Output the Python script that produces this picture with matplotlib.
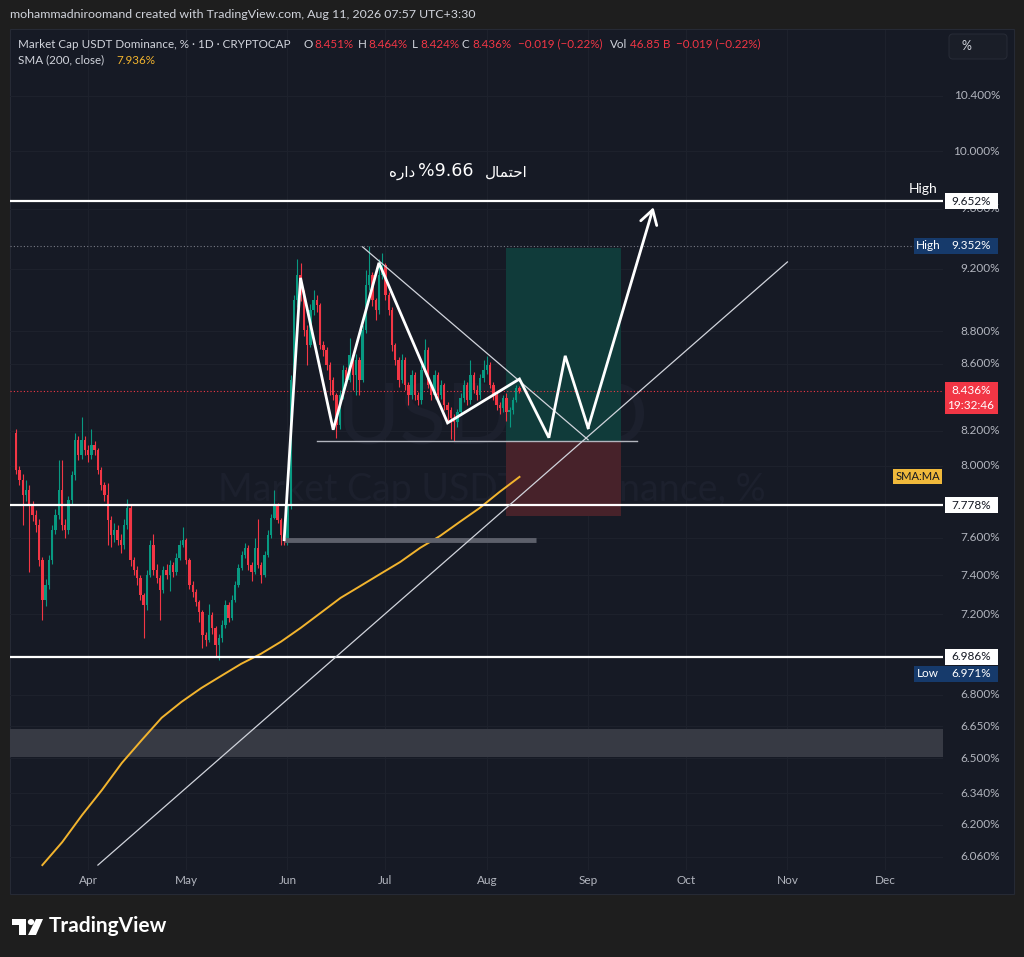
import numpy as np
import pandas as pd
import matplotlib
matplotlib.use("Agg")
import matplotlib.pyplot as plt
from matplotlib.patches import Rectangle, FancyBboxPatch, Polygon, Circle

# ---- data -------------------------------------------------------------------
START = "2026-03-10"      # first daily candle
FIRST_OPEN = 8.19

closes = [7.976, 7.920, 7.836, 7.864, 7.781, 7.726, 7.672, 7.483, 7.273, 7.351,
          7.483, 7.645, 7.726, 7.864, 7.672, 7.645, 7.809, 7.948, 8.148, 8.062,
          8.148, 8.090, 8.062, 8.119, 8.090, 7.976, 7.892, 7.836, 7.699, 7.617,
          7.645, 7.590, 7.563, 7.672, 7.765, 7.483, 7.431, 7.389, 7.299, 7.248,
          7.404, 7.563, 7.431, 7.389, 7.325, 7.431, 7.404, 7.457, 7.420, 7.494,
          7.563, 7.590, 7.483, 7.351, 7.315, 7.263, 7.212, 7.095, 7.070, 7.196,
          7.130, 7.045, 7.080, 7.146, 7.248, 7.181, 7.273, 7.351, 7.441, 7.510,
          7.547, 7.457, 7.420, 7.547, 7.457, 7.404, 7.510, 7.617, 7.710, 7.781,
          7.699, 7.617, 7.590, 7.781, 8.502, 8.998, 9.159, 9.030, 8.808, 8.715,
          8.934, 8.998, 8.966, 8.715, 8.684, 8.592, 8.502, 8.411, 8.234, 8.411,
          8.562, 8.502, 8.653, 8.532, 8.623, 8.502, 8.808, 9.095, 9.159, 8.998,
          8.934, 9.159, 9.224, 9.030, 8.934, 8.715, 8.623, 8.502, 8.623, 8.471,
          8.411, 8.532, 8.411, 8.381, 8.562, 8.684, 8.471, 8.411, 8.532, 8.411,
          8.471, 8.352, 8.322, 8.275, 8.252, 8.310, 8.393, 8.471, 8.381, 8.532,
          8.441, 8.411, 8.514, 8.562, 8.592, 8.471, 8.411, 8.352, 8.334, 8.393,
          8.310, 8.322, 8.381, 8.451, 8.436]

highs = [8.21, 8.00, 7.95, 7.92, 7.89, 7.80, 7.75, 7.70, 7.50, 7.38,
         7.51, 7.67, 7.76, 8.03, 8.03, 7.70, 7.83, 7.97, 8.19, 8.17,
         8.28, 8.17, 8.12, 8.21, 8.14, 8.10, 7.99, 7.91, 7.90, 7.72,
         7.68, 7.67, 7.62, 7.70, 7.81, 7.78, 7.50, 7.45, 7.40, 7.31,
         7.43, 7.59, 7.62, 7.46, 7.40, 7.45, 7.46, 7.48, 7.47, 7.52,
         7.59, 7.66, 7.60, 7.49, 7.37, 7.33, 7.27, 7.22, 7.11, 7.25,
         7.21, 7.14, 7.10, 7.17, 7.27, 7.26, 7.30, 7.37, 7.46, 7.53,
         7.57, 7.56, 7.47, 7.60, 7.70, 7.47, 7.53, 7.64, 7.73, 7.86,
         7.79, 7.71, 7.64, 7.80, 8.53, 9.03, 9.26, 9.24, 9.06, 8.84,
         8.97, 9.06, 9.03, 8.98, 8.74, 8.70, 8.61, 8.52, 8.42, 8.44,
         8.59, 8.58, 8.76, 8.67, 8.66, 8.64, 8.84, 9.19, 9.352, 9.18,
         9.01, 9.26, 9.30, 9.24, 9.05, 8.95, 8.73, 8.64, 8.66, 8.64,
         8.49, 8.56, 8.55, 8.43, 8.59, 8.75, 8.70, 8.49, 8.56, 8.55,
         8.50, 8.48, 8.37, 8.34, 8.30, 8.33, 8.42, 8.50, 8.49, 8.62,
         8.55, 8.47, 8.54, 8.62, 8.65, 8.61, 8.49, 8.43, 8.37, 8.41,
         8.42, 8.34, 8.40, 8.47, 8.464]

lows = [7.95, 7.89, 7.67, 7.80, 7.42, 7.69, 7.63, 7.45, 7.17, 7.24,
        7.33, 7.46, 7.62, 7.70, 7.64, 7.60, 7.62, 7.78, 7.92, 8.03,
        8.04, 8.06, 8.02, 8.04, 8.06, 7.95, 7.86, 7.80, 7.56, 7.55,
        7.58, 7.56, 7.52, 7.54, 7.65, 7.45, 7.40, 7.35, 7.27, 7.08,
        7.22, 7.39, 7.40, 7.36, 7.17, 7.31, 7.38, 7.32, 7.39, 7.40,
        7.48, 7.55, 7.46, 7.33, 7.29, 7.24, 7.16, 7.03, 7.04, 7.06,
        7.10, 6.99, 6.971, 7.06, 7.13, 7.16, 7.17, 7.26, 7.34, 7.43,
        7.49, 7.43, 7.37, 7.41, 7.44, 7.36, 7.39, 7.50, 7.60, 7.70,
        7.68, 7.56, 7.56, 7.56, 7.76, 8.47, 8.95, 8.99, 8.77, 8.59,
        8.70, 8.90, 8.92, 8.69, 8.65, 8.56, 8.41, 8.38, 8.16, 8.21,
        8.39, 8.47, 8.49, 8.44, 8.41, 8.41, 8.49, 8.79, 9.06, 8.96,
        8.87, 8.91, 9.13, 9.00, 8.90, 8.68, 8.59, 8.46, 8.48, 8.44,
        8.35, 8.39, 8.38, 8.35, 8.36, 8.54, 8.45, 8.38, 8.39, 8.38,
        8.39, 8.32, 8.26, 8.15, 8.14, 8.22, 8.29, 8.37, 8.35, 8.36,
        8.42, 8.38, 8.39, 8.49, 8.54, 8.45, 8.38, 8.32, 8.30, 8.31,
        8.26, 8.22, 8.30, 8.37, 8.424]

# SMA(200) as read at evenly spaced dates
SMA_FROM, SMA_TO = "2026-03-18", "2026-08-11"
sma_vals = [6.025, 6.124, 6.243, 6.355, 6.478, 6.584, 6.689, 6.765, 6.832, 6.891,
            6.950, 7.000, 7.060, 7.130, 7.206, 7.283, 7.345, 7.408, 7.471, 7.546,
            7.610, 7.687, 7.763, 7.852, 7.936]

months = ["Apr", "May", "Jun", "Jul", "Aug", "Sep", "Oct", "Nov", "Dec"]
price_ticks = [10.4, 10.0, 9.6, 9.2, 8.8, 8.6, 8.2, 8.0, 7.6, 7.4, 7.2,
               6.8, 6.65, 6.5, 6.34, 6.2, 6.06]

levels = [9.652, 7.778, 6.986]
high_mark = 9.352
low_mark = 6.971
last_price = 8.436
sma_last = 7.936

zigzag_dates = ["2026-05-31", "2026-06-05", "2026-06-15", "2026-06-29", "2026-07-20",
                "2026-08-11", "2026-08-20", "2026-08-25", "2026-09-01", "2026-09-21"]
zigzag_prices = [7.59, 9.14, 8.206, 9.238, 8.246, 8.507, 8.16, 8.648, 8.217, 9.61]

down_dates, down_prices = ["2026-06-24", "2026-09-01"], [9.343, 8.148]
up_dates, up_prices = ["2026-04-04", "2026-11-01"], [6.025, 9.244]
support_dates, support_price = ["2026-06-10", "2026-09-16"], 8.14
box_dates = ["2026-08-07", "2026-09-11"]
box_stop, box_entry, box_target = 7.72, 8.14, 9.336
bar_dates, bar_price = ["2026-05-31", "2026-08-16"], 7.59
zone_lo, zone_hi = 6.505, 6.636

# ---- style ------------------------------------------------------------------
W, H = 1024, 957
BG_OUT = "#1e1e1e"
BG = "#161a25"
GRID = "#1e222d"
TXT = "#b2b5be"
UP, DOWN = "#089981", "#f23645"
SMA_C = "#f2b42e"
BLUE = "#163a6b"
plt.rcParams["font.family"] = ["Lato", "DejaVu Sans"]

ORIGIN = pd.Timestamp("2026-04-01")


def day(d):
    return (pd.Timestamp(d) - ORIGIN) / pd.Timedelta(days=1)


def fx(px):
    return px / W


def fy(py):
    return 1 - py / H


fig = plt.figure(figsize=(W / 100, H / 100), dpi=100, facecolor=BG_OUT)
fig.add_artist(Rectangle((fx(10), fy(894)), fx(1004), (894 - 29) / H,
                         transform=fig.transFigure, facecolor=BG,
                         edgecolor="#262a35", lw=0.8, zorder=-3))

ax = fig.add_axes([fx(10), fy(870), fx(933), 840 / H])
ax.set_facecolor("none")
for s in ax.spines.values():
    s.set_visible(False)
ax.set_yscale("log")
ax.set_xlim(-23.9, 261.6)
ax.set_ylim(6.004, 10.898)
ax.set_xticks([])
ax.set_yticks([])
ax.minorticks_off()
ax.tick_params(which="both", length=0, labelleft=False, labelbottom=False)

month_x = [day(d) for d in pd.date_range("2026-04-01", periods=len(months), freq="MS")]
for v in price_ticks:
    ax.axhline(v, color=GRID, lw=0.7, zorder=0)
for m in month_x:
    ax.axvline(m, color=GRID, lw=0.7, zorder=0)

# watermark
fig.text(fx(493), fy(420), "USDT.D", fontsize=62, color="#1c202d",
         ha="center", va="center", zorder=-2)
fig.text(fx(492), fy(490), "Market Cap USDT Dominance, %", fontsize=27,
         color="#1c202d", ha="center", va="center", zorder=-2)

# grey demand zone
ax.axhspan(zone_lo, zone_hi, color="#373a44", zorder=1, lw=0)

# position box
bx0, bx1 = day(box_dates[0]), day(box_dates[1])
ax.add_patch(Rectangle((bx0, box_entry), bx1 - bx0, box_target - box_entry,
                       facecolor="#103b3a", edgecolor="none", zorder=1))
ax.add_patch(Rectangle((bx0, box_stop), bx1 - bx0, box_entry - box_stop,
                       facecolor="#47222a", edgecolor="none", zorder=1))

# candles
dates = pd.date_range(START, periods=len(closes), freq="D")
x = np.array([day(d) for d in dates])
c = np.array(closes)
o = np.array([FIRST_OPEN] + closes[:-1])
colors = np.where(c >= o, UP, DOWN)
ax.vlines(x, lows, highs, colors=colors, lw=0.8, zorder=3)
ax.bar(x, np.maximum(np.abs(c - o), 0.006), bottom=np.minimum(o, c), width=0.72,
       color=colors, lw=0, zorder=3)

# SMA
sma_x = [day(d) for d in pd.date_range(SMA_FROM, SMA_TO, periods=len(sma_vals))]
ax.plot(sma_x, sma_vals, color=SMA_C, lw=1.4, zorder=4)

# horizontal levels
for v in levels:
    ax.axhline(v, color="white", lw=1.6, zorder=5)
ax.axhline(high_mark, color="#787b86", lw=0.8, ls=(0, (1, 2)), zorder=2)
ax.axhline(last_price, color=DOWN, lw=0.8, ls=(0, (1, 2)), zorder=2)

# gray bar, support, trend lines
ax.plot([day(d) for d in bar_dates], [bar_price] * 2, color="#5d606b", lw=3.5,
        solid_capstyle="butt", zorder=4)
ax.plot([day(d) for d in support_dates], [support_price] * 2, color="#b2b5be",
        lw=1.0, zorder=5)
ax.plot([day(d) for d in down_dates], down_prices, color="#d1d4dc", lw=0.9, zorder=5)
ax.plot([day(d) for d in up_dates], up_prices, color="#d1d4dc", lw=0.9, zorder=5)

# projected zigzag
zx = [day(d) for d in zigzag_dates]
ax.plot(zx[:-1], zigzag_prices[:-1], color="white", lw=2.0, zorder=6,
        solid_joinstyle="miter")
ax.annotate("", xy=(zx[-1], zigzag_prices[-1]), xytext=(zx[-2], zigzag_prices[-2]),
            arrowprops=dict(arrowstyle="->,head_length=0.5,head_width=0.3",
                            color="white", lw=2.0, shrinkA=0, shrinkB=0,
                            mutation_scale=20), zorder=6)

# ---- price scale ------------------------------------------------------------


def ypix(v):
    return ax.transData.transform((0, v))[1]


for v in price_ticks:
    fig.text(fx(1000), ypix(v) / H, f"{v:.3f}%", ha="right", va="center",
             fontsize=8.5, color=TXT, zorder=4)


def label(x0, x1, yc, h, face, parts, tcolor, size=8.5):
    fig.add_artist(Rectangle((fx(x0), (yc - h / 2) / H), (x1 - x0) / W, h / H,
                             transform=fig.transFigure, facecolor=face,
                             edgecolor="none", zorder=6))
    for px, txt in parts:
        fig.text(fx(px), yc / H, txt, ha="center", va="center", fontsize=size,
                 color=tcolor, zorder=7)


for v in levels:
    label(945, 998, ypix(v), 16, "white", [(971, f"{v:.3f}%")], "#131722")
label(914, 998, ypix(high_mark), 16, BLUE,
      [(928, "High"), (971, f"{high_mark:.3f}%")], "white")
label(914, 998, ypix(low_mark) - 14, 16, BLUE,
      [(928, "Low"), (971, f"{low_mark:.3f}%")], "white")
yl = ypix(last_price)
fig.add_artist(Rectangle((fx(945), (yl - 23) / H), fx(53), 32 / H,
                         transform=fig.transFigure, facecolor=DOWN,
                         edgecolor="none", zorder=6))
fig.text(fx(971), yl / H, f"{last_price:.3f}%", ha="center", va="center",
         fontsize=8.5, color="white", zorder=7)
fig.text(fx(971), (yl - 15) / H, "19:32:46", ha="center", va="center",
         fontsize=8.5, color="white", zorder=7)
label(893, 942, ypix(sma_last), 15, "#f0b93b", [(917.5, "SMA:MA")], "#131722", 8)
fig.text(fx(923), (ypix(levels[0]) + 12) / H, "High", ha="center", va="center",
         fontsize=10, color="white", zorder=7)

# time scale
for m, name in zip(month_x, months):
    px = ax.transData.transform((m, 7.0))[0]
    fig.text(px / W, fy(881), name, ha="center", va="center", fontsize=8.5,
             color=TXT)

# persian note: visual order, presentation forms
fig.text(fx(402), fy(172), "\ufee9\ufead\ufe8d\ufea9", family=["DejaVu Sans"],
         fontsize=11, color="white", ha="center", va="center")
fig.text(fx(446), fy(171), "%9.66", family=["DejaVu Sans"], fontsize=12.5,
         color="white", ha="center", va="center")
fig.text(fx(506), fy(172), "\ufedd\ufe8e\ufee4\ufe98\ufea3\ufe8d",
         family=["DejaVu Sans"], fontsize=11, color="white", ha="center", va="center")

# ---- header / legend --------------------------------------------------------
fig.text(fx(10), fy(14), "mohammadniroomand created with TradingView.com, "
         "Aug 11, 2026 07:57 UTC+3:30", fontsize=8.9, color="#d1d4dc", va="center")
fig.text(fx(18), fy(44), "Market Cap USDT Dominance, % \u00b7 1D \u00b7 CRYPTOCAP",
         fontsize=8.4, color="#d1d4dc", va="center")
legend_parts = [(303, "O", "#d1d4dc"), (314, "8.451%", DOWN),
                (358, "H", "#d1d4dc"), (368, "8.464%", DOWN),
                (412, "L", "#d1d4dc"), (420, "8.424%", DOWN),
                (462, "C", "#d1d4dc"), (472, "8.436%", DOWN),
                (518, "\u22120.019 (\u22120.22%)", DOWN),
                (610, "Vol", "#d1d4dc"), (630, "46.85 B", DOWN),
                (676, "\u22120.019 (\u22120.22%)", DOWN)]
for px, txt, col in legend_parts:
    fig.text(fx(px), fy(44), txt, fontsize=8.4, color=col, va="center")
fig.text(fx(18), fy(60), "SMA (200, close)", fontsize=8.4, color="#d1d4dc", va="center")
fig.text(fx(116), fy(60), f"{sma_last:.3f}%", fontsize=8.4, color=SMA_C, va="center")

fig.add_artist(FancyBboxPatch((fx(949), fy(59)), fx(58), 25 / H,
                              boxstyle="round,pad=0,rounding_size=0.004",
                              transform=fig.transFigure, facecolor="#1a1e28",
                              edgecolor="#262a35", lw=0.8, zorder=5))
fig.text(fx(962), fy(46), "%", fontsize=9, color="#d1d4dc", va="center", zorder=6)

# TradingView logo
fig.add_artist(Rectangle((fx(12), fy(925)), fx(14), 6 / H, transform=fig.transFigure,
                         facecolor="white", zorder=5))
fig.add_artist(Rectangle((fx(19), fy(935)), fx(7), 16 / H, transform=fig.transFigure,
                         facecolor="white", zorder=5))
fig.add_artist(Circle((fx(31), fy(922)), 3.2 / W, transform=fig.transFigure,
                      facecolor="white", zorder=5))
fig.add_artist(Polygon([(fx(36), fy(919)), (fx(43), fy(919)), (fx(36), fy(935)),
                        (fx(28), fy(935))], closed=True, transform=fig.transFigure,
                       facecolor="white", zorder=5))
fig.text(fx(49), fy(926), "TradingView", fontsize=15, fontweight="bold",
         color="white", va="center")

fig.savefig("out.png", dpi=100, facecolor=BG_OUT)
